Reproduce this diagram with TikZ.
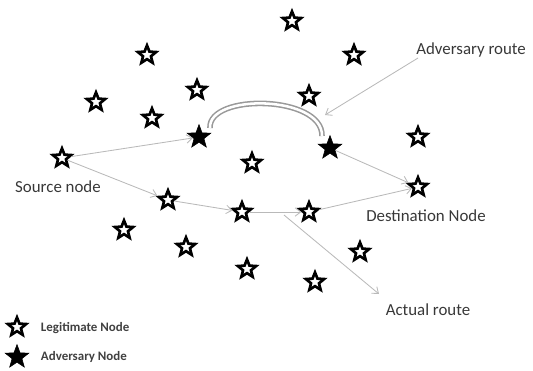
\documentclass[tikz,border=0pt]{standalone}
\usepackage{fontspec}
\setmainfont{Carlito}
\usetikzlibrary{shapes.geometric,arrows.meta}

\tikzset{
  legit/.style={star, star points=5, star point ratio=2.3, minimum size=0.48cm, inner sep=0pt, draw=black, line width=1.9pt, fill=white},
  advnode/.style={star, star points=5, star point ratio=2.4, minimum size=0.62cm, inner sep=0pt, draw=black, fill=black},
  route/.style={draw=gray!55, line width=0.6pt, -{Straight Barb[length=4pt,width=6pt]}},
  lbl/.style={font=\fontsize{12}{14}\selectfont, text=black!78},
  legendtext/.style={font=\fontsize{9.2}{11}\bfseries\selectfont, text=black!75, anchor=west}
}

\begin{document}
\begin{tikzpicture}[x=0.025cm, y=-0.025cm]
  \useasboundingbox (0,0) rectangle (533,370);

  % Draw the legitimate nodes
  \node[legit] (n1) at (292,21) {};
  \node[legit] (n2) at (147,55) {};
  \node[legit] (n3) at (354,55) {};
  \node[legit] (n4) at (197,90) {};
  \node[legit] (n5) at (309,96) {};
  \node[legit] (n6) at (96,102) {};
  \node[legit] (n7) at (152,118) {};
  \node[legit] (n8) at (418,137) {};
  \node[legit] (n9) at (252,163) {};
  \node[legit] (n10) at (124,230) {};
  \node[legit] (n11) at (186,247) {};
  \node[legit] (n12) at (360,252) {};
  \node[legit] (n13) at (247,269) {};
  \node[legit] (n14) at (315,282) {};

  % Source, destination and the nodes on the actual route
  \node[legit] (src) at (62,158) {};
  \node[legit] (dst) at (418,187) {};
  \node[legit] (r1) at (168,200) {};
  \node[legit] (r2) at (242,212) {};
  \node[legit] (r3) at (309,212) {};

  % Draw the adversary nodes
  \node[advnode] (adv1) at (199,137) {};
  \node[advnode] (adv2) at (330,148) {};

  % Labels
  \node[lbl] (srclbl) at (58,187) {Source node};
  \node[lbl] (dstlbl) at (426,216) {Destination Node};
  \node[lbl] (advlbl) at (471,50) {Adversary route};
  \node[lbl] (actlbl) at (428,310) {Actual route};

  % Draw the routes
  \draw[route] (src) -- (adv1);
  \draw[route] (src) -- (r1);
  \draw[route] (r1) -- (r2);
  \draw[route] (r2) -- (r3);
  \draw[route] (r3) -- (dst);
  \draw[route] (adv2) -- (dst);

  % The tunnel between the adversaries
  \draw[gray!80, line width=1.1pt, double=white, double distance=1.8pt]
    (210,128) .. controls (208,93) and (323,95) .. (322,136);

  % Pointers to the labels
  \coordinate (advtip) at (325,115);
  \coordinate (advfoot) at (418,58);
  \draw[route] (advfoot) -- (advtip);
  \coordinate (actfoot) at (284,215);
  \coordinate (acttip) at (379,294);
  \draw[route] (actfoot) -- (acttip);

  % Legend
  \node[legit] (leg1) at (17,327) {};
  \node[advnode] (leg2) at (17,357) {};
  \node[legendtext] (leg1txt) at (36,328) {Legitimate Node};
  \node[legendtext] (leg2txt) at (36,357) {Adversary Node};
\end{tikzpicture}
\end{document}
